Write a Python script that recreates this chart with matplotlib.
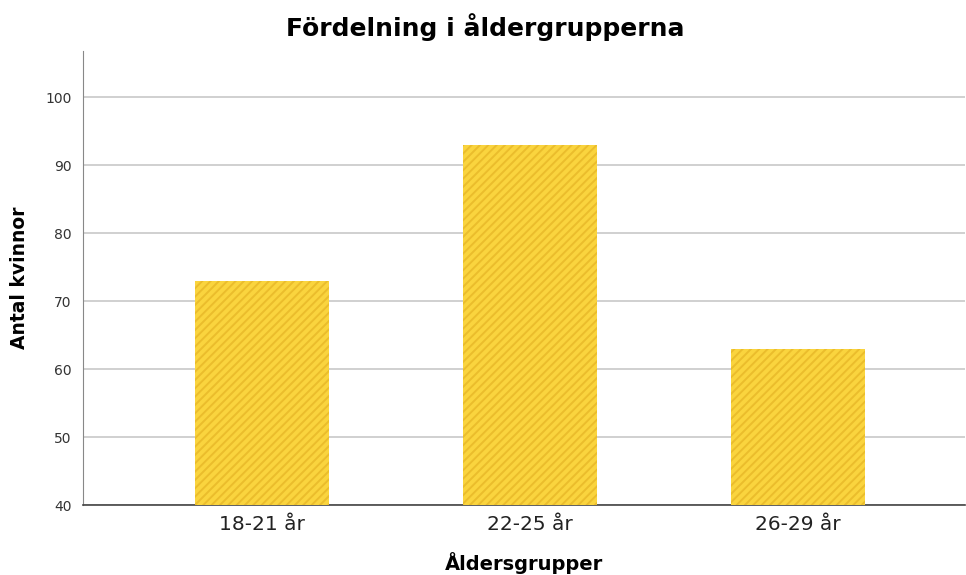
import matplotlib
matplotlib.use("Agg")
import matplotlib.pyplot as plt

# data
groups = ["18-21 år", "22-25 år", "26-29 år"]
counts = [73, 93, 63]
yticks = [40, 50, 60, 70, 80, 90, 100]

plt.rcParams['hatch.linewidth'] = 1.4

fig = plt.figure(figsize=(9.66, 5.75), dpi=100)
ax = fig.add_axes([0.0859, 0.1217, 0.9131, 0.7896])

x = range(len(groups))
ax.bar(x, counts, width=0.5, color="#FAD43E", edgecolor="#EBBD2C",
       hatch="////", linewidth=0, zorder=3)

ax.set_xlim(-0.668, 2.623)
ax.set_ylim(40, 106.8)
ax.set_yticks(yticks)
ax.set_xticks(list(x))
ax.set_xticklabels(groups, fontsize=14.5, color="#222222")
ax.tick_params(axis="x", length=0, pad=7)
ax.tick_params(axis="y", length=0, pad=8, labelsize=10, labelcolor="#333333")

ax.grid(axis="y", color="#C8C8C8", linewidth=1.2, zorder=0)
for s in ["top", "right"]:
    ax.spines[s].set_visible(False)
ax.spines["left"].set_color("#888888")
ax.spines["bottom"].set_color("#444444")
ax.spines["bottom"].set_linewidth(1.2)

ax.set_ylabel("Antal kvinnor", fontsize=13.5, fontweight="bold", labelpad=12)
ax.set_xlabel("Åldersgrupper", fontsize=14, fontweight="bold", labelpad=13)
fig.suptitle("Fördelning i åldergrupperna", fontsize=18, fontweight="bold",
             x=0.502, y=0.978)

fig.savefig("out.png", dpi=100)
